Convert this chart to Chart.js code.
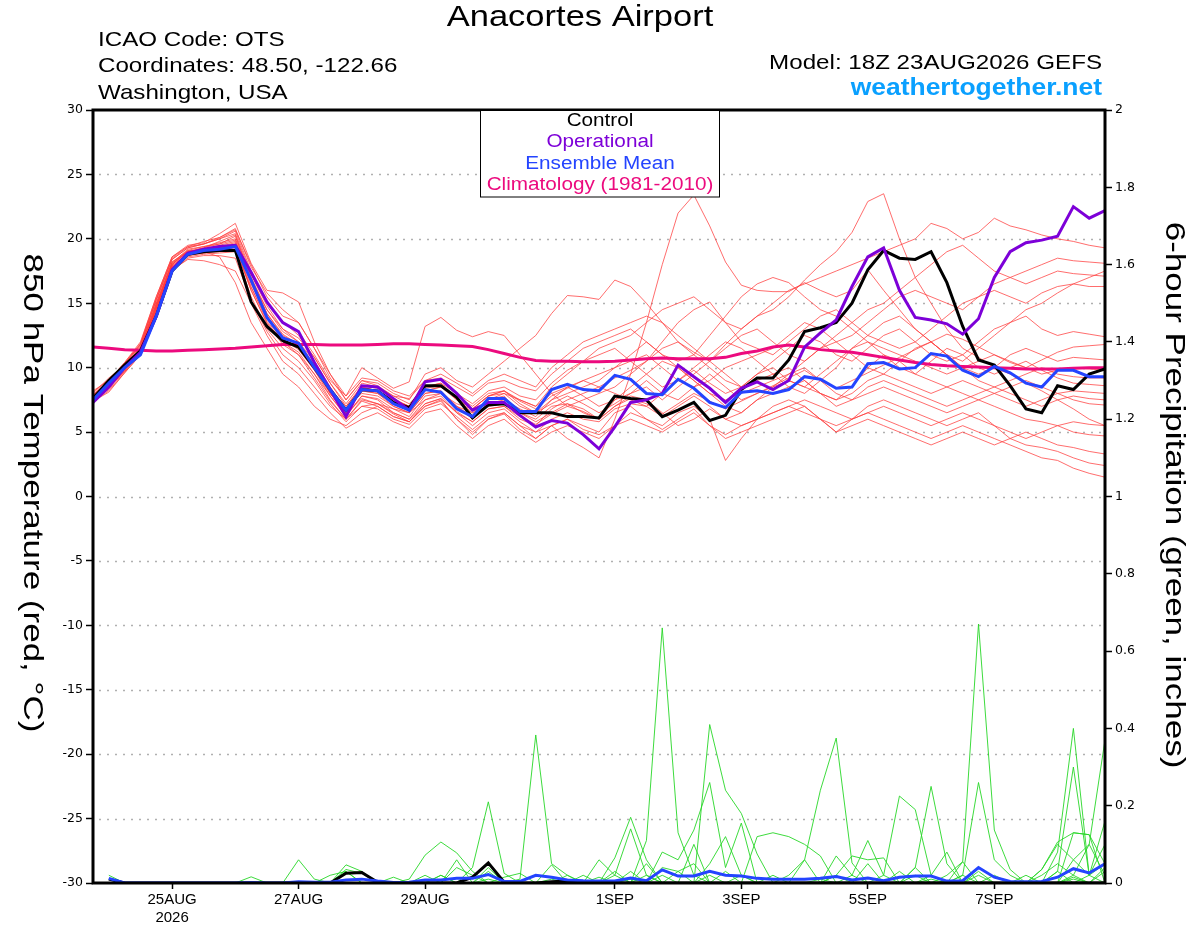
<!DOCTYPE html>
<html>
<head>
<meta charset="utf-8">
<script src="https://cdn.jsdelivr.net/npm/chart.js@4"></script>
<style>
  body { margin: 0; background: #fff; }
  canvas { display: block; }
</style>
</head>
<body>
<canvas id="chart" width="1200" height="927"></canvas>
<script>
// forecast hours from 18Z 23AUG2026
let hours = [0,6,12,18,24,30,36,42,48,54,60,66,72,78,84,90,96,102,108,114,120,126,132,138,144,150,156,162,168,174,180,186,192,198,204,210,216,222,228,234,240,246,252,258,264,270,276,282,288,294,300,306,312,318,324,330,336,342,348,354,360,366,372,378,384];

let tickHours = [30, 78, 126, 198, 246, 294, 342];
let tickLabels = [['25AUG','2026'], '27AUG', '29AUG', '1SEP', '3SEP', '5SEP', '7SEP'];

// 850 hPa temperature (C)
let control = [7.6,9.0,10.2,11.3,14.0,17.5,18.8,19.0,19.1,19.1,
  15.1,13.2,12.1,11.6,10.0,8.3,6.7,8.3,8.2,7.3,6.9,8.6,
  8.6,7.7,6.1,7.1,7.2,6.5,6.5,6.5,6.2,6.2,6.1,
  7.8,7.6,7.5,6.2,6.7,7.3,5.9,6.3,8.3,9.2,
  9.2,10.6,12.8,13.1,13.5,15.0,17.6,19.1,18.5,18.4,
  19.0,16.6,13.2,10.6,10.2,8.6,6.8,6.5,8.6,8.3,9.5,9.9];

let operational = [7.3,8.5,10.0,11.2,14.0,17.6,18.9,19.2,19.4,19.5,
  17.4,15.1,13.5,12.8,10.4,8.3,6.2,8.6,8.5,7.6,6.7,8.9,
  9.1,8.0,6.7,7.3,7.3,6.3,5.4,5.9,5.7,4.8,3.7,
  5.4,7.3,7.5,8.0,10.2,9.3,8.4,7.3,8.4,8.9,
  8.3,9.0,11.6,12.7,13.7,16.3,18.6,19.3,16.0,13.9,
  13.7,13.4,12.6,13.8,17.0,19.0,19.7,19.9,20.2,22.5,21.6,22.2];

let ensMean = [7.5,8.8,10.0,11.0,14.0,17.5,18.8,19.1,19.2,19.4,
  16.8,13.9,12.3,11.9,10.0,8.3,6.7,8.3,8.2,7.2,6.7,8.3,
  8.1,6.8,6.2,7.6,7.6,6.6,6.6,8.3,8.7,8.3,8.2,
  9.4,9.1,8.0,7.9,9.1,8.4,7.3,6.9,8.1,8.2,
  8.0,8.3,9.3,9.1,8.4,8.5,10.3,10.4,9.9,10.0,
  11.1,10.9,9.8,9.3,10.1,9.6,8.8,8.5,9.8,9.8,9.3,9.3];

let climatology = [11.6,11.5,11.4,11.35,11.3,11.3,11.35,11.4,11.45,11.5,
  11.6,11.7,11.8,11.8,11.8,11.75,11.75,11.75,11.8,11.85,11.85,11.8,
  11.75,11.7,11.65,11.4,11.1,10.8,10.55,10.5,10.5,10.45,10.45,
  10.5,10.6,10.7,10.75,10.7,10.7,10.7,10.8,11.1,11.3,
  11.6,11.75,11.6,11.4,11.3,11.2,11.0,10.8,10.6,10.4,
  10.25,10.15,10.1,10.05,10.0,9.95,9.9,9.9,9.9,9.95,10.0,10.0];

let tempMembers = [
  [7.8,8.8,10.0,11.5,15.0,18.2,19.0,19.3,19.8,20.3, 17.0,14.5,12.8,12.0,10.5,8.5,6.8,8.0,7.8,7.0,6.5,8.0, 8.2,7.0,6.0,7.2,7.5,6.8,6.2,7.5,8.5,9.0,8.5, 9.2,9.8,10.5,11.5,12.0,11.2,10.5,11.8,13.0,14.0, 14.5,15.5,16.8,18.0,19.0,20.5,22.9,23.5,20.0,17.0, 15.0,13.0,11.5,10.8,10.0,9.5,8.8,8.2,7.5,6.8,6.0,5.5],
  [7.6,8.6,9.9,11.3,14.6,17.9,18.8,19.0,19.3,19.6, 16.5,14.0,12.0,11.2,9.5,7.8,6.3,7.8,7.5,6.5,6.0,7.5, 7.8,6.5,5.5,6.5,6.8,5.8,5.0,5.5,4.5,3.8,3.0, 6.0,9.5,13.5,18.0,22.0,23.4,21.0,18.2,16.4,16.0, 15.9,15.9,16.6,16.0,15.5,16.0,17.6,16.0,14.5,13.0, 12.0,11.0,10.5,11.5,12.5,13.5,14.5,15.0,15.8,16.5,17.0,17.5],
  [8.2,9.0,10.4,12.0,15.5,18.6,19.5,19.7,20.4,21.2, 18.1,16.0,15.8,15.1,12.0,9.5,7.5,9.0,8.8,8.0,7.5,9.5, 10.0,9.0,8.5,9.5,10.5,11.5,12.5,14.2,15.6,15.5,15.3, 16.8,16.3,15.0,13.5,12.0,11.0,10.0,9.0,8.5,9.0, 9.5,10.0,9.0,8.0,7.5,8.5,10.0,11.0,10.5,9.5, 9.0,8.5,8.0,7.5,8.0,8.5,9.0,8.5,8.0,7.5,7.2,7.1],
  [8.0,9.2,10.2,11.8,15.2,18.4,19.3,19.6,20.0,20.6, 17.5,15.0,13.5,12.8,11.0,9.0,7.8,10.0,9.2,8.4,8.9,13.2, 13.9,12.9,12.4,12.8,12.5,11.0,9.5,8.0,7.0,7.5,8.0, 8.5,9.5,10.5,12.0,13.5,14.5,15.1,13.5,12.0,11.5, 11.0,12.0,13.0,14.0,14.5,13.5,12.5,12.0,11.5,12.0, 13.0,14.0,15.0,15.5,16.0,15.5,15.0,15.8,16.3,16.5,16.3,16.3],
  [7.5,8.4,9.8,11.2,14.8,18.0,19.0,19.2,19.5,19.8, 16.8,14.5,13.0,12.0,10.2,8.0,6.5,8.2,8.0,7.2,6.8,8.2, 8.5,7.5,6.5,7.5,8.0,7.5,7.0,8.5,9.5,10.5,11.5, 12.0,12.5,13.5,14.5,15.0,15.5,14.5,13.5,13.0,14.0, 15.0,16.0,16.5,17.0,17.5,18.0,18.5,19.0,19.5,20.0, 21.2,20.8,20.0,20.5,21.6,21.0,20.7,20.3,20.0,19.8,19.5,19.3],
  [7.7,8.5,9.7,11.1,14.5,17.8,18.8,18.9,19.0,19.1, 16.2,13.8,12.2,11.4,9.8,8.0,6.5,8.2,8.0,7.0,6.5,8.0, 8.2,7.0,6.2,7.5,7.8,6.5,5.8,6.5,7.2,6.8,6.0, 7.5,8.0,8.5,7.5,8.5,9.5,10.5,9.5,8.5,9.5, 10.5,11.5,12.5,12.0,11.0,10.5,11.5,12.5,13.0,12.0, 11.0,10.5,11.0,12.0,13.0,13.5,14.0,13.0,12.5,12.8,12.6,12.4],
  [7.4,8.2,9.6,11.0,14.3,17.6,18.4,18.3,18.0,17.5, 15.0,12.5,10.5,9.5,8.0,6.5,5.3,6.0,6.5,5.8,5.3,6.5, 6.8,5.5,4.5,5.5,6.0,5.0,4.2,5.0,5.5,5.0,4.5, 5.5,6.0,5.5,5.0,5.8,6.5,5.5,4.8,5.5,6.0, 6.5,7.0,6.5,6.0,5.5,6.0,6.5,6.0,5.5,5.0, 4.5,5.0,5.5,5.0,4.5,4.0,3.5,3.0,2.8,2.2,1.8,1.5],
  [7.9,8.9,10.1,11.6,15.0,18.2,19.1,19.0,18.6,16.6, 13.5,11.5,9.5,8.5,7.0,6.0,5.5,6.5,7.0,6.2,5.8,7.0, 7.5,6.0,5.0,6.0,6.5,5.5,4.5,5.5,6.0,5.5,5.0, 6.5,7.0,6.0,5.5,6.5,7.0,6.0,2.8,4.5,6.0, 7.0,7.5,7.0,6.0,5.0,6.0,7.0,7.5,7.0,6.5, 6.0,5.5,6.0,6.5,5.5,4.5,4.0,3.8,3.5,3.0,2.6,2.4],
  [7.6,8.7,10.0,11.5,14.8,18.0,19.1,19.4,19.7,20.0, 17.2,14.8,13.0,12.3,10.8,8.8,7.2,8.8,8.5,7.8,7.2,8.5, 8.8,8.0,7.2,8.2,8.5,7.8,7.5,8.8,9.8,10.5,11.0, 11.5,10.5,9.5,8.5,9.0,9.8,8.8,8.0,8.5,9.5, 10.0,9.0,8.5,9.5,10.5,11.5,12.0,11.0,10.0,9.5, 10.5,11.5,11.0,10.0,9.5,10.0,10.5,9.8,9.2,8.8,8.7,8.6],
  [7.5,8.5,9.8,11.3,14.6,17.9,18.9,19.1,19.3,19.5, 16.0,13.5,12.0,11.0,9.5,7.5,6.0,7.5,7.2,6.5,6.0,7.2, 7.6,6.5,5.8,6.8,7.0,6.0,5.5,6.8,7.5,8.0,8.5, 8.0,7.5,7.0,8.0,9.0,10.0,11.0,12.0,11.5,10.5, 9.5,8.5,8.0,9.0,10.0,11.5,12.5,13.5,14.0,13.0, 12.0,11.0,10.0,9.5,10.0,11.0,11.5,11.0,10.5,10.8,10.7,10.6],
  [7.8,8.8,10.3,11.7,15.3,18.5,19.4,19.8,20.1,20.7, 18.0,15.5,14.0,13.5,11.5,9.5,7.8,9.2,9.0,8.2,7.8,9.0, 9.2,8.5,7.8,8.8,9.0,8.5,8.2,9.5,10.5,11.5,12.0, 12.5,13.0,12.0,11.0,10.0,9.0,8.0,7.0,6.5,7.5, 8.5,9.5,10.0,9.0,8.0,7.5,8.0,8.5,8.0,7.5, 7.0,6.5,7.0,7.5,7.0,6.5,6.0,5.8,5.5,5.8,5.6,5.5],
  [7.5,8.3,9.7,11.2,14.4,17.7,18.6,18.8,18.9,19.0, 15.5,13.0,11.5,10.5,9.0,7.2,5.8,7.0,6.8,6.0,5.6,6.8, 7.2,6.2,5.2,6.2,6.5,5.5,5.0,6.0,6.5,6.0,5.8, 6.8,7.2,7.0,6.2,7.0,7.8,7.0,6.0,6.5,7.5, 8.0,8.5,9.0,8.0,7.0,7.5,8.5,9.0,8.5,8.0, 7.5,7.0,7.5,8.0,8.5,8.0,7.5,7.0,7.5,7.8,7.6,7.5],
  [8.1,9.1,10.3,11.9,15.5,18.6,19.4,19.6,20.1,20.8, 17.8,15.8,14.5,13.5,11.5,9.2,7.5,9.0,8.6,7.8,7.6,9.0, 9.5,8.8,8.0,9.0,9.5,9.0,8.5,10.0,11.0,12.0,12.5, 13.0,13.5,14.0,13.5,12.5,11.5,10.5,11.5,12.5,13.0, 12.0,11.0,10.5,11.5,12.5,13.5,14.5,15.0,16.0,17.0, 18.0,19.0,19.5,18.5,17.5,17.0,16.5,17.0,17.5,17.3,17.2,17.1],
  [7.4,8.1,9.6,11.0,14.2,17.5,18.5,18.7,18.7,18.5, 15.2,12.8,11.0,10.0,8.5,7.0,6.0,7.0,7.2,6.8,6.5,7.5, 8.0,7.0,6.5,7.0,7.2,6.5,6.0,7.0,7.2,6.5,6.0, 7.0,7.8,7.5,6.5,5.5,6.0,6.8,6.0,5.5,6.0, 6.5,7.0,7.5,7.0,6.5,6.0,6.5,7.0,6.5,6.0, 5.5,6.0,6.5,6.0,5.5,5.0,4.5,5.0,5.5,5.0,4.8,4.7],
  [7.7,8.6,10.1,11.4,14.7,18.1,19.0,19.3,19.6,20.2, 17.0,14.2,12.5,11.8,10.0,8.2,6.8,8.5,8.2,7.5,7.0,8.2, 8.5,7.8,7.0,8.0,8.2,7.2,6.5,7.5,8.0,8.5,9.0, 10.0,11.0,12.0,11.0,10.5,11.0,12.5,14.0,15.5,16.5, 17.0,16.6,15.5,14.5,14.0,13.0,12.0,11.5,11.0,10.5, 10.0,9.5,10.0,10.5,11.0,10.5,10.0,9.5,9.8,10.0,9.9,9.8],
  [7.6,8.5,9.9,11.3,14.5,17.8,18.7,19.0,19.2,19.4, 16.3,13.6,12.2,11.6,9.8,7.8,6.2,7.8,7.6,6.8,6.2,7.8, 8.0,7.2,6.8,7.8,8.2,7.5,7.0,8.0,8.5,7.8,7.0, 7.5,8.5,9.5,10.5,10.0,9.0,8.0,7.5,8.0,8.5, 9.0,9.5,10.5,11.5,12.0,11.0,10.0,9.5,10.5,11.5, 12.0,11.0,10.0,9.0,8.5,9.0,9.5,10.0,9.5,9.3,9.2,9.2],
  [7.8,8.9,10.2,11.6,14.9,18.1,19.2,19.4,19.6,19.9, 16.8,14.2,12.6,11.8,10.2,8.0,6.4,7.6,7.2,6.4,5.8,7.0, 7.4,6.0,4.8,6.0,6.4,5.2,4.5,5.5,6.0,5.2,4.8, 5.5,6.5,6.0,5.2,6.0,6.8,5.5,4.5,5.0,5.5, 6.0,6.5,7.0,6.0,5.0,5.5,6.0,5.5,5.0,4.5, 4.0,4.5,5.0,4.5,4.0,4.5,5.0,4.5,4.0,3.8,3.5,3.3],
  [7.5,8.4,9.9,11.4,14.7,18.0,19.0,19.2,19.4,19.7, 16.6,14.0,12.4,11.7,10.0,8.3,7.0,8.5,8.2,7.5,7.0,8.5, 8.8,7.5,6.8,7.8,8.0,7.0,6.5,7.2,7.8,7.2,6.5, 7.2,8.0,9.0,8.0,7.5,8.5,9.5,8.5,7.5,8.0, 8.5,9.0,8.5,8.0,7.5,8.0,9.0,9.5,9.0,8.5, 8.0,8.5,9.0,8.5,8.0,7.5,7.0,7.5,8.0,8.2,8.1,8.0],
  [7.9,9.0,10.4,11.8,15.3,18.4,19.3,19.6,20.0,20.4, 17.3,15.0,13.6,12.5,10.8,8.8,7.0,8.6,8.4,7.6,7.0,8.4, 8.6,7.6,6.8,7.8,8.2,7.4,6.8,7.8,8.4,9.0,9.5, 10.0,10.5,11.0,10.0,9.0,8.5,9.0,10.0,10.5,11.0, 11.5,12.5,13.5,13.0,12.0,12.5,13.5,14.5,15.5,16.0, 15.5,15.0,14.5,15.5,16.5,17.0,17.5,18.0,18.5,18.3,18.2,18.1],
  [7.6,8.6,10.0,11.4,14.6,17.8,18.7,18.9,19.1,19.3, 16.0,13.4,11.8,11.0,9.2,7.4,6.0,7.4,7.0,6.2,5.8,7.2, 7.6,6.6,5.8,6.8,7.0,6.2,5.6,6.4,7.0,6.6,6.0, 7.0,7.6,7.2,6.4,7.2,8.0,7.4,6.8,7.4,8.0, 8.6,9.2,9.8,9.0,8.4,9.0,9.6,10.2,10.8,11.4, 12.0,12.6,12.2,11.6,11.0,10.4,10.0,10.6,11.2,11.6,11.7,11.8]
];

// 6-hour precipitation (inches)
let controlPrecip = [null,.01,0,0,0,0,0,0,0,0, 0,0,0,0,0,0,.025,.027,.002,0, 0,0,0,0,.015,.052,.002,0,0,.003, .005,.002,.004,0,0,0,0,0,0,0, 0,0,0,0,0,0,0,0,0,0, 0,0,0,0,0,0,0,0,0,0, 0,0,0,0,0];

let meanPrecip = [null,.012,0,0,0,0,0,0,0,0, .001,0,0,.003,.002,.002,.008,.01,.005,.001, .002,.008,.008,.012,.012,.022,.004,.004,.02,.015, .008,.006,.005,.005,.013,.006,.034,.018,.018,.03, .02,.018,.012,.01,.01,.01,.012,.017,.008,.013, .006,.015,.018,.018,.005,.006,.04,.015,.004,.003, .004,.015,.037,.026,.05];

let precipMembers = [
  [null,.02,0,0,0,0,0,0,0,0, 0,0,0,0,0,0,.03,0,0,0, 0,0,.02,0,.04,.21,.025,0,0,0, 0,0,0,.03,0,.11,.66,.13,.02,0, 0,0,0,0,0,0,0,.07,.02,0, 0,0,0,0,0,0,0,0,0,0, 0,0,.06,.02,0],
  [null,.01,0,0,0,0,0,0,0,0, 0,0,0,0,0,0,0,0,0,0, .01,.072,.106,.078,.03,0,0,.01,.383,.05, .02,0,0,0,0,.05,0,0,0,.05, .12,.02,0,0,0,0,0,0,0,0, 0,.03,0,0,0,0,0,0,0,0, .02,.05,.02,.1,.37],
  [null,0,0,0,0,0,0,0,0,0, 0,0,0,.06,.01,0,.047,.03,0,0, 0,0,0,.06,0,.04,0,0,0,0, 0,0,0,.065,.17,.06,0,0,0,.41, .24,.18,.075,0,0,0,0,0,0,0, 0,0,0,0,.02,.055,.67,.137,.035,0, 0,0,.13,.125,0],
  [null,0,0,0,0,0,0,0,0,0, .016,0,0,0,0,0,.035,.025,0,0, 0,0,0,.04,.02,0,0,0,0,0, 0,0,.06,.02,.14,.02,0,0,0,0, 0,0,0,0,0,.06,.24,.375,.052,0, 0,0,0,.02,.08,0,0,0,0,0, 0,.08,.40,.02,.1],
  [null,0,0,0,0,0,0,0,0,0, 0,0,0,0,0,.02,.03,0,0,0, 0,.02,0,0,0,.03,0,0,0,.047, 0,0,0,0,.03,0,0,0,0,0, 0,0,.12,.13,.12,.1,.07,0,0,0, 0,0,.04,.25,.05,0,0,0,0,0, .035,.106,.13,.125,.05],
  [null,0,0,0,0,0,0,0,0,0, 0,0,0,0,0,0,0,0,0,.015, 0,0,0,0,0,0,.015,.025,0,0, 0,0,.015,0,0,0,.08,.06,.137,.26, .04,.155,0,0,0,0,0,0,0,0, .02,.225,.19,.02,0,.02,.26,.06,.02,0, 0,0,0,.02,.16],
  [null,0,0,0,0,0,0,0,0,0, 0,0,0,0,0,0,0,0,0,0, 0,0,.02,0,0,0,0,0,0,0, 0,.02,0,0,0,.02,0,0,.1,0, 0,0,0,0,0,0,0,.02,.07,.06, .065,0,0,0,0,.055,0,0,0,0, 0,.03,.3,.02,.05],
  [null,0,0,0,0,0,0,0,0,0, 0,0,0,0,0,0,0,0,0,0, 0,0,0,0,0,0,0,0,0,0, .02,0,0,0,0,0,.04,.03,.05,0, 0,0,0,0,0,0,0,0,.02,.11, .02,0,.04,0,0,0,.02,0,0,0, .035,.1,.06,.1,.02],
  [null,0,0,0,0,0,0,0,0,0, 0,0,0,0,0,0,0,0,0,0, 0,0,0,0,0,0,0,0,0,0, 0,0,0,.02,0,0,0,.03,0,0, 0,0,0,0,.02,.06,0,0,0,.05, 0,0,.02,0,0,.02,0,0,0,.02, 0,.03,0,0,.03],
  [null,0,0,0,0,0,0,0,0,0, 0,0,0,0,0,0,0,0,0,0, 0,0,0,0,0,0,0,0,0,0, 0,0,0,0,.01,0,0,0,0,0, 0,.02,0,.02,0,0,0,.02,0,0, 0,0,0,.01,0,0,0,.02,0,0, 0,0,.02,0,.04],
  [null,0,0,0,0,0,0,0,0,0, 0,0,0,0,0,0,0,0,0,0, 0,0,0,0,0,.01,0,0,0,0, 0,0,0,0,0,0,.02,0,0,0, .03,0,0,0,0,0,0,0,0,0, 0,0,0,0,0,0,.03,0,0,0, 0,0,.01,0,0],
  [null,0,0,0,0,0,0,0,0,0, 0,0,0,0,0,0,0,0,0,0, 0,0,0,0,0,0,0,0,0,.01, 0,0,0,0,0,0,0,0,0,.02, 0,0,0,0,0,0,.01,0,0,0, 0,0,0,0,0,0,0,0,0,0, 0,0,.015,0,0]
];

let legendItems = ['Control', 'Operational', 'Ensemble Mean', 'Climatology (1981-2010)'];
let legendColors = ['#000000', '#7d00d8', '#2444ff', '#ec0a7e'];

function pts(vals){
    return vals.map((v, i) => ({x: hours[i], y: v}));
}

let datasets = [];
tempMembers.forEach((m) => {
    datasets.push({data: pts(m), borderColor: 'rgba(255,60,60,0.75)', borderWidth: 1, yAxisID: 'y', order: 6});
});
precipMembers.forEach((m) => {
    datasets.push({data: pts(m), borderColor: 'rgba(40,215,40,0.9)', borderWidth: 1, yAxisID: 'y2', order: 5});
});
datasets.push({data: pts(climatology), borderColor: legendColors[3], borderWidth: 3, yAxisID: 'y', order: 4});
datasets.push({data: pts(controlPrecip), borderColor: '#000', borderWidth: 3, yAxisID: 'y2', order: 3});
datasets.push({data: pts(control), borderColor: '#000', borderWidth: 3, yAxisID: 'y', order: 2});
datasets.push({data: pts(operational), borderColor: legendColors[1], borderWidth: 3, yAxisID: 'y', order: 1});
datasets.push({data: pts(meanPrecip), borderColor: legendColors[2], borderWidth: 3, yAxisID: 'y2', order: 0});
datasets.push({data: pts(ensMean), borderColor: legendColors[2], borderWidth: 3, yAxisID: 'y', order: 0});

let font = 'Liberation Sans, Arial, sans-serif';
let tickFont = {family: 'DejaVu Sans, sans-serif', size: 12.5};

// text is a bit wider than Arial in the original, so stretch it
function stretchText(ctx, text, x, y, align, sx, rot){
    ctx.save();
    ctx.translate(x, y);
    if(rot) ctx.rotate(rot);
    ctx.scale(sx, 1);
    ctx.textAlign = align;
    ctx.fillText(text, 0, 0);
    ctx.restore();
}

let decor = {
    id: 'decor',
    beforeDatasetsDraw(chart){
        let ctx = chart.ctx, a = chart.chartArea, ys = chart.scales.y;
        ctx.save();
        ctx.strokeStyle = '#b0b0b0';
        ctx.lineWidth = 1.5;
        ctx.setLineDash([2, 6]);
        for(let v = -25; v < 30; v += 5){
            let py = Math.round(ys.getPixelForValue(v)) + 0.5;
            ctx.beginPath();
            ctx.moveTo(a.left + 6, py);
            ctx.lineTo(a.right, py);
            ctx.stroke();
        }
        ctx.restore();
    },
    afterDraw(chart){
        let ctx = chart.ctx, a = chart.chartArea;
        ctx.save();
        ctx.setLineDash([]);
        // frame
        ctx.strokeStyle = '#000';
        ctx.lineWidth = 3;
        ctx.strokeRect(a.left, a.top, a.right - a.left, a.bottom - a.top);

        // legend box
        ctx.fillStyle = '#fff';
        ctx.fillRect(480, a.top + 1, 239, 86);
        ctx.lineWidth = 1;
        ctx.strokeRect(480.5, a.top, 239, 87);
        ctx.font = '18px ' + font;
        ctx.textBaseline = 'middle';
        legendItems.forEach((t, i) => {
            ctx.fillStyle = legendColors[i];
            stretchText(ctx, t, 600, 121 + i * 21.3, 'center', 1.15);
        });

        // header
        ctx.fillStyle = '#000';
        ctx.font = '30px ' + font;
        stretchText(ctx, 'Anacortes Airport', 580, 18, 'center', 1.15);
        ctx.font = '21px ' + font;
        stretchText(ctx, 'ICAO Code: OTS', 98, 40, 'left', 1.15);
        stretchText(ctx, 'Coordinates: 48.50, -122.66', 98, 66, 'left', 1.15);
        stretchText(ctx, 'Washington, USA', 98, 93, 'left', 1.15);
        stretchText(ctx, 'Model: 18Z 23AUG2026 GEFS', 1102, 63, 'right', 1.15);
        ctx.fillStyle = '#0aa0ff';
        ctx.font = 'bold 23px ' + font;
        stretchText(ctx, 'weathertogether.net', 1102, 89, 'right', 1.15);

        // axis titles
        ctx.fillStyle = '#000';
        ctx.font = '28px ' + font;
        stretchText(ctx, '850 hPa Temperature (red, \u00B0C)', 32, 493, 'center', 1.25, Math.PI / 2);
        stretchText(ctx, '6-hour Precipitation (green, inches)', 1174, 495, 'center', 1.25, Math.PI / 2);
        ctx.restore();
    }
};

let ctx = document.getElementById('chart').getContext('2d');
let chart = new Chart(ctx, {
    type: 'line',
    data: {datasets: datasets},
    options: {
        responsive: false,
        animation: false,
        events: [],
        layout: {padding: {top: 110, left: 0, right: 0, bottom: 0}},
        elements: {point: {radius: 0}, line: {tension: 0, fill: false}},
        plugins: {legend: {display: false}, tooltip: {enabled: false}},
        scales: {
            x: {
                type: 'linear', min: 0, max: 384,
                afterFit(s){ s.height = 44; },
                afterBuildTicks(s){ s.ticks = tickHours.map(v => ({value: v})); },
                ticks: {
                    autoSkip: false, maxRotation: 0, padding: 2,
                    color: '#000', font: {family: font, size: 15},
                    callback: (v) => tickLabels[tickHours.indexOf(v)]
                },
                grid: {drawOnChartArea: false, tickLength: 6, tickColor: '#000', tickWidth: 1.5},
                border: {display: false}
            },
            y: {
                position: 'left', min: -30, max: 30,
                afterFit(s){ s.width = 93; },
                ticks: {stepSize: 5, padding: 3, color: '#000', font: tickFont},
                grid: {drawOnChartArea: false, tickLength: 7, tickColor: '#000', tickWidth: 1.5},
                border: {display: false}
            },
            y2: {
                position: 'right', min: 0, max: 2,
                afterFit(s){ s.width = 95; },
                ticks: {
                    stepSize: 0.2, padding: 3, color: '#000', font: tickFont,
                    callback: (v) => String(Math.round(v * 10) / 10)
                },
                grid: {drawOnChartArea: false, tickLength: 7, tickColor: '#000', tickWidth: 1.5},
                border: {display: false}
            }
        }
    },
    plugins: [decor]
});
</script>
</body>
</html>
